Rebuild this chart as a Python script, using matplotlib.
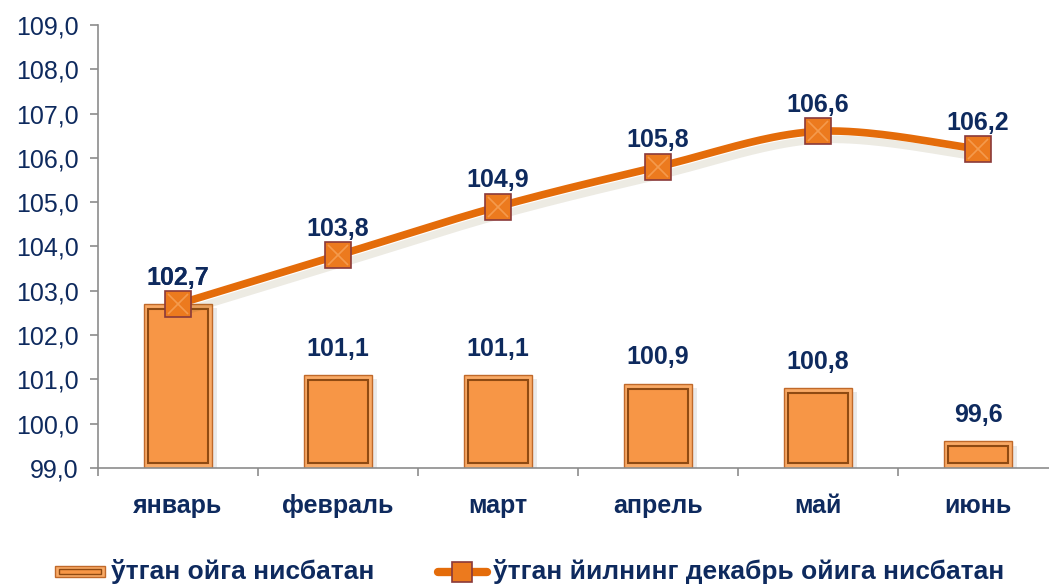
import numpy as np
import matplotlib
matplotlib.use('Agg')
import matplotlib.pyplot as plt
import matplotlib.patheffects as pe
from matplotlib.patches import Rectangle
from matplotlib.lines import Line2D
from matplotlib import font_manager

months = ['январь', 'февраль', 'март', 'апрель', 'май', 'июнь']
prev_month = [102.7, 101.1, 101.1, 100.9, 100.8, 99.6]
prev_dec = [102.7, 103.8, 104.9, 105.8, 106.6, 106.2]
y_ticks = [99, 100, 101, 102, 103, 104, 105, 106, 107, 108, 109]
legend_labels = ['ўтган ойга нисбатан', 'ўтган йилнинг декабрь ойига нисбатан']

NAVY = '#0E2A5E'
BAR_FACE = '#F79646'
BAR_RIM = '#F9AA66'
BAR_EDGE = '#8F4A12'
LINE_C = '#E46C0A'
BASE = 99.0


def fmt(v):
    return f'{v:.1f}'.replace('.', ',')


def smooth(xs, ys, n=40):
    # bezier smoothing like the office "smoothed line"
    p = np.column_stack([xs, ys]).astype(float)
    p = np.vstack([p[0], p, p[-1]])
    out = []
    for i in range(1, len(p) - 2):
        p0, p1, p2, p3 = p[i - 1], p[i], p[i + 1], p[i + 2]
        c1 = p1 + (p2 - p0) / 6
        c2 = p2 - (p3 - p1) / 6
        t = np.linspace(0, 1, n)[:, None]
        seg = ((1 - t) ** 3) * p1 + 3 * ((1 - t) ** 2) * t * c1 + 3 * (1 - t) * t ** 2 * c2 + t ** 3 * p2
        out.append(seg if i == 1 else seg[1:])
    out = np.vstack(out)
    return out[:, 0], out[:, 1]


names = {f.name for f in font_manager.fontManager.ttflist}
narrow = 'Liberation Sans Narrow' if 'Liberation Sans Narrow' in names else 'Liberation Sans'
plt.rcParams['font.family'] = ['Liberation Sans', 'DejaVu Sans']

fig = plt.figure(figsize=(10.49, 5.87), dpi=100)
W, H = 1049, 587
ax = fig.add_axes([98 / W, (H - 468) / H, 960 / W, (468 - 25) / H])
ax.set_xlim(-0.5, len(months) - 0.5)
ax.set_ylim(BASE, 109)

x = np.arange(len(months))
bw = 0.43

# bars with a bevelled look
for xi, v in zip(x, prev_month):
    h = v - BASE
    outer = Rectangle((xi - bw / 2, BASE), bw, h, facecolor=BAR_RIM, edgecolor='#C0692A', lw=1.0,
                      zorder=2, path_effects=[pe.SimplePatchShadow(offset=(3, -3), shadow_rgbFace='#777777', alpha=0.15), pe.Normal()])
    ax.add_patch(outer)
    ix, iy = 0.028, min(0.11, h * 0.22)
    inner = Rectangle((xi - bw / 2 + ix, BASE + iy), bw - 2 * ix, h - 2 * iy, facecolor=BAR_FACE,
                      edgecolor=BAR_EDGE, lw=1.5, zorder=3)
    ax.add_patch(inner)
    ax.annotate(fmt(v), (xi, v), xytext=(0, 19), textcoords='offset points', ha='center', va='center',
                fontsize=18, fontweight='bold', color=NAVY, zorder=6)

# smoothed line
sx, sy = smooth(x, prev_dec)
ax.plot(sx, sy, color=LINE_C, lw=5.5, solid_capstyle='round', zorder=4,
        path_effects=[pe.SimpleLineShadow(offset=(2, -6), shadow_color='#6B5B1E', alpha=0.12), pe.Normal()])
ax.plot(x, prev_dec, ls='none', marker='s', ms=19, mfc='#EC7A1E', mec='#8A3A3A', mew=1.2, zorder=5)
ax.plot(x, prev_dec, ls='none', marker='x', ms=15, mec='#F8A962', mew=1.2, alpha=0.7, zorder=5)
for xi, v in zip(x, prev_dec):
    ax.annotate(fmt(v), (xi, v), xytext=(0, 19), textcoords='offset points', ha='center', va='center',
                fontsize=18, fontweight='bold', color=NAVY, zorder=6)

# axes styling
for s in ['top', 'right']:
    ax.spines[s].set_visible(False)
for s in ['left', 'bottom']:
    ax.spines[s].set_color('#8C8C8C')
    ax.spines[s].set_linewidth(1.2)
ax.set_yticks(y_ticks)
ax.set_yticklabels([fmt(v) for v in y_ticks], fontsize=18, color=NAVY)
ax.tick_params(axis='y', length=6, width=1.2, color='#8C8C8C', pad=8)
ax.set_xticks(x)
ax.set_xticklabels(months, fontsize=18, fontweight='bold', color=NAVY)
ax.tick_params(axis='x', length=0, pad=19)
ax.set_xticks(np.arange(-0.5, len(months)), minor=True)
ax.tick_params(axis='x', which='minor', length=6, width=1.2, color='#8C8C8C')

# legend drawn by hand at the bottom
ly = (H - 572) / H
fig.add_artist(Rectangle((55 / W, ly - 5 / H), 50 / W, 11 / H, transform=fig.transFigure,
                         facecolor=BAR_RIM, edgecolor='#C0692A', lw=1))
fig.add_artist(Rectangle((59 / W, ly - 2 / H), 42 / W, 5 / H, transform=fig.transFigure,
                         facecolor=BAR_FACE, edgecolor=BAR_EDGE, lw=1))
fig.text(111 / W, ly, legend_labels[0], family=[narrow, 'DejaVu Sans'], fontsize=19, fontweight='bold',
         color=NAVY, va='center', ha='left')
fig.add_artist(Line2D([438 / W, 487 / W], [ly, ly], transform=fig.transFigure, color=LINE_C, lw=6,
                      solid_capstyle='round'))
fig.add_artist(Line2D([462 / W], [ly], transform=fig.transFigure, marker='s', ms=15, mfc='#EC7A1E',
                      mec='#8A3A3A', mew=1.2, ls='none'))
fig.text(493 / W, ly, legend_labels[1], family=[narrow, 'DejaVu Sans'], fontsize=19, fontweight='bold',
         color=NAVY, va='center', ha='left')

fig.savefig('out.png', dpi=100)
